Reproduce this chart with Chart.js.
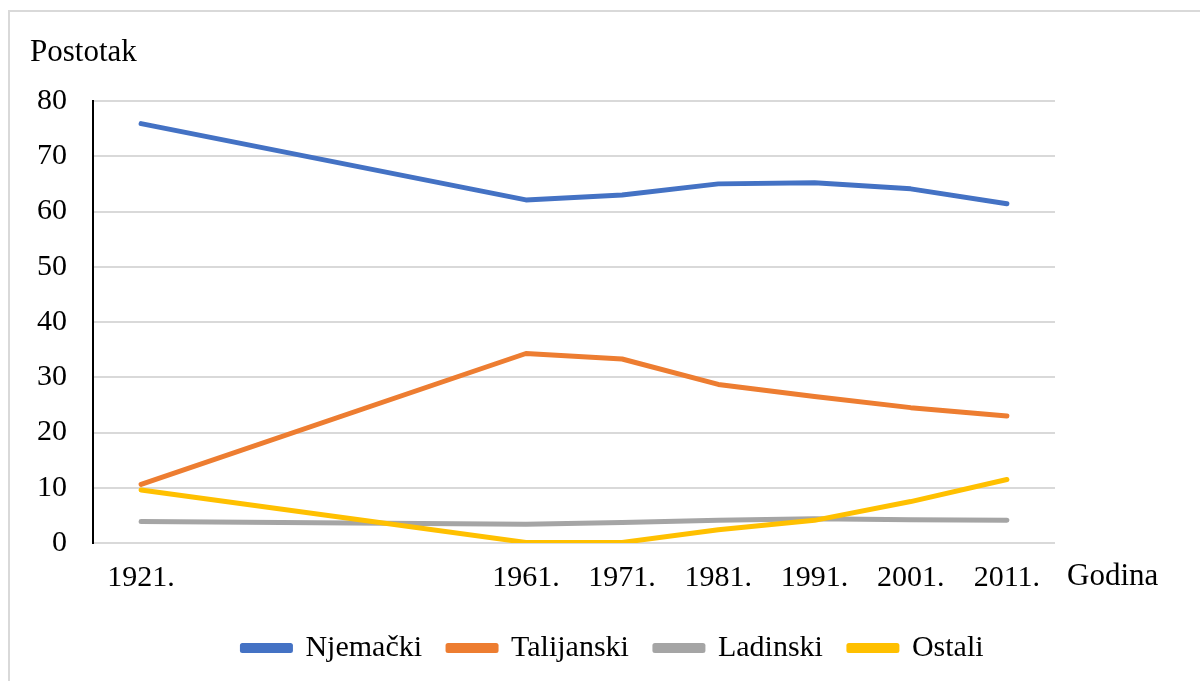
<!DOCTYPE html>
<html>
<head>
<meta charset="utf-8">
<script src="https://cdn.jsdelivr.net/npm/chart.js@4"></script>
<style>
  html, body { margin: 0; padding: 0; background: #fff; }
  #wrap { width: 1200px; height: 681px; position: relative; }
</style>
</head>
<body>
<div id="wrap"><canvas id="c" width="1200" height="681"></canvas></div>
<script>
const years = [1921, 1961, 1971, 1981, 1991, 2001, 2011]
const njemacki = [75.9, 62.1, 63.0, 65.0, 65.2, 64.1, 61.4]
const talijanski = [10.6, 34.3, 33.3, 28.7, 26.5, 24.5, 23.0]
const ladinski = [3.9, 3.4, 3.7, 4.1, 4.4, 4.2, 4.1]
const ostali = [9.6, 0.1, 0.1, 2.4, 4.1, 7.5, 11.5]
const yTicks = [0, 10, 20, 30, 40, 50, 60, 70, 80]

const FONT = "'Liberation Serif', 'Times New Roman', serif"
const pts = arr => arr.map((v, i) => ({x: years[i], y: v}))

const line = (label, data, color, order) => ({
    label, data: pts(data), borderColor: color, backgroundColor: color,
    borderWidth: 5, borderCapStyle: 'round', borderJoinStyle: 'round',
    pointRadius: 0, tension: 0, order
})

// axis titles and the light frame round the chart
const decor = {
    id: 'decor',
    afterDraw(chart) {
        const ctx = chart.ctx
        ctx.save()
        ctx.strokeStyle = '#d9d9d9'
        ctx.lineWidth = 2
        ctx.beginPath()
        ctx.moveTo(9, 700); ctx.lineTo(9, 11); ctx.lineTo(1200, 11)
        ctx.stroke()
        ctx.fillStyle = '#000'
        ctx.font = '31px ' + FONT
        ctx.textBaseline = 'middle'
        ctx.fillText('Postotak', 30, 53)
        ctx.fillText('Godina', 1067, 577)
        ctx.restore()
    }
}

new Chart(document.getElementById('c'), {
    type: 'line',
    data: {
        datasets: [
            line('Njemački', njemacki, '#4472C4', 4),
            line('Talijanski', talijanski, '#ED7D31', 3),
            line('Ladinski', ladinski, '#A5A5A5', 2),
            line('Ostali', ostali, '#FFC000', 1)
        ]
    },
    options: {
        responsive: false,
        animation: false,
        layout: { padding: { top: 101, right: 0, left: 26, bottom: 8 } },
        scales: {
            x: {
                type: 'linear', min: 1916, max: 2016,
                afterBuildTicks: s => { s.ticks = years.map(v => ({value: v})) },
                afterFit: s => { s.height = 64 },
                grid: { display: false },
                border: { display: false },
                ticks: {
                    color: '#000', font: { family: FONT, size: 30 }, padding: 9,
                    maxRotation: 0, autoSkip: false,
                    callback: v => v + '.'
                }
            },
            y: {
                min: 0, max: 80,
                afterBuildTicks: s => { s.ticks = yTicks.map(v => ({value: v})) },
                afterFit: s => { s.width = 67 },
                grid: { color: '#d9d9d9', lineWidth: 2, drawTicks: false },
                border: { display: true, color: '#000', width: 2 },
                ticks: { color: '#000', font: { family: FONT, size: 30 }, padding: 26 }
            },
            // empty right-hand axis that keeps room for the "Godina" label
            yRight: {
                position: 'right', min: 0, max: 80,
                afterFit: s => { s.width = 145 },
                grid: { display: false },
                border: { display: false },
                ticks: { display: false }
            }
        },
        plugins: {
            legend: {
                position: 'bottom',
                labels: {
                    color: '#000', font: { family: FONT, size: 30 },
                    boxWidth: 48, boxHeight: 5, padding: 26,
                    sort: (a, b) => a.datasetIndex - b.datasetIndex
                }
            },
            tooltip: { enabled: false }
        }
    },
    plugins: [decor]
})
</script>
</body>
</html>
